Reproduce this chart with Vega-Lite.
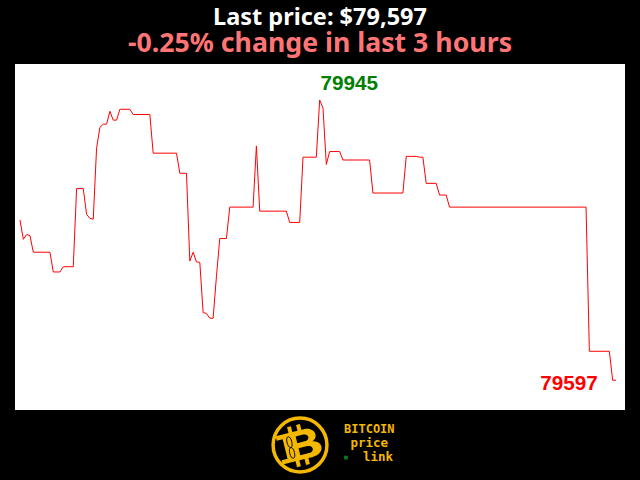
{"$schema":"https://vega.github.io/schema/vega-lite/v6.json","width":610,"height":346,"autosize":{"type":"none"},"padding":{"left":15,"top":64,"right":15,"bottom":70},"background":"#000000","view":{"fill":"#ffffff","stroke":null},"title":{"text":"Last price: $79,597","subtitle":"-0.25% change in last 3 hours","color":"#ffffff","subtitleColor":"#ff7575","font":"Noto Sans","subtitleFont":"Noto Sans","fontSize":23.5,"subtitleFontSize":26.7,"fontWeight":"bold","subtitleFontWeight":"bold","anchor":"middle","offset":6,"subtitlePadding":2},"datasets":{"prices":[{"minute":0,"price":79796},{"minute":1,"price":79772},{"minute":2,"price":79778},{"minute":3,"price":79776.5},{"minute":4,"price":79756},{"minute":9,"price":79756},{"minute":10,"price":79731.5},{"minute":12,"price":79731.5},{"minute":13,"price":79738},{"minute":16,"price":79738},{"minute":17,"price":79835},{"minute":19,"price":79835},{"minute":20,"price":79803},{"minute":21,"price":79798},{"minute":22,"price":79797},{"minute":23,"price":79885},{"minute":24,"price":79911},{"minute":25,"price":79915},{"minute":26,"price":79915},{"minute":27,"price":79931},{"minute":28,"price":79920},{"minute":29,"price":79920},{"minute":30,"price":79933.5},{"minute":33,"price":79933.5},{"minute":34,"price":79927},{"minute":39,"price":79927},{"minute":40,"price":79879},{"minute":47,"price":79879},{"minute":48,"price":79854},{"minute":50,"price":79854},{"minute":51,"price":79745},{"minute":52,"price":79756},{"minute":53,"price":79744},{"minute":54,"price":79743.5},{"minute":55,"price":79681},{"minute":56,"price":79680},{"minute":57,"price":79674},{"minute":58,"price":79674},{"minute":59,"price":79726},{"minute":60,"price":79773},{"minute":62,"price":79773},{"minute":63,"price":79812},{"minute":70,"price":79812},{"minute":71,"price":79888},{"minute":72,"price":79807},{"minute":80,"price":79807},{"minute":81,"price":79793},{"minute":84,"price":79793},{"minute":85,"price":79874},{"minute":89,"price":79874},{"minute":90,"price":79945},{"minute":91,"price":79935},{"minute":92,"price":79865},{"minute":93,"price":79881},{"minute":96,"price":79881},{"minute":97,"price":79870.5},{"minute":105,"price":79870.5},{"minute":106,"price":79829.5},{"minute":115,"price":79829.5},{"minute":116,"price":79875},{"minute":119,"price":79875},{"minute":120,"price":79874},{"minute":121,"price":79874},{"minute":122,"price":79841.5},{"minute":125,"price":79841.5},{"minute":126,"price":79827},{"minute":128,"price":79827},{"minute":129,"price":79812},{"minute":170,"price":79812},{"minute":171,"price":79633},{"minute":177,"price":79633},{"minute":178,"price":79597},{"minute":179,"price":79597}]},"encoding":{"x":{"field":"minute","type":"quantitative","axis":null,"scale":{"domain":[-1.5,181.7],"nice":false,"zero":false}},"y":{"field":"price","type":"quantitative","axis":null,"scale":{"domain":[79560.1,79989.7],"nice":false,"zero":false}}},"layer":[{"data":{"name":"prices"},"mark":{"type":"line","color":"#ff0000","strokeWidth":1,"interpolate":"linear","clip":false}},{"data":{"values":[{"minute":90,"price":79945,"label":"79945"}]},"mark":{"type":"text","font":"Liberation Sans","fontWeight":"bold","fontSize":20.7,"color":"#008000","dx":29.5,"dy":-16,"align":"center","baseline":"middle"},"encoding":{"text":{"field":"label"}}},{"data":{"values":[{"minute":179,"price":79597,"label":"79597"}]},"mark":{"type":"text","font":"Liberation Sans","fontWeight":"bold","fontSize":20.7,"color":"#ff0000","dx":-47,"dy":4,"align":"center","baseline":"middle"},"encoding":{"text":{"field":"label"}}},{"data":{"values":[{"minute":84.1,"price":79516.7}]},"mark":{"type":"point","filled":false,"size":2900,"strokeWidth":3.5,"color":"#f5b800","opacity":1}},{"data":{"values":[{"minute":84.4,"price":79516.7}]},"mark":{"type":"point","filled":true,"opacity":1,"color":"#f5b800","size":2800,"angle":-14,"shape":"M-0.85,-0.55 L-0.35,-0.55 L-0.35,-0.78 L-0.2,-0.78 L-0.2,-0.55 L0,-0.55 L0,-0.78 L0.15,-0.78 L0.15,-0.55 L0.25,-0.55 C0.68,-0.55 0.74,-0.1 0.44,-0.03 C0.88,0.05 0.82,0.55 0.3,0.55 L0.15,0.55 L0.15,0.78 L0,0.78 L0,0.55 L-0.2,0.55 L-0.2,0.78 L-0.35,0.78 L-0.35,0.55 L-0.85,0.55 L-0.85,0.38 L-0.62,0.38 L-0.62,-0.38 L-0.85,-0.38 Z"}},{"data":{"values":[{"minute":84.4,"price":79516.7}]},"mark":{"type":"point","filled":true,"opacity":1,"color":"#000000","size":2800,"angle":-14,"shape":"M-0.12,-0.36 L0.17,-0.36 C0.4,-0.36 0.4,-0.1 0.17,-0.1 L-0.12,-0.1 Z M-0.12,0.1 L0.22,0.1 C0.46,0.1 0.46,0.37 0.22,0.37 L-0.12,0.37 Z"}},{"data":{"values":[{"minute":84.4,"price":79516.7}]},"mark":{"type":"point","filled":false,"opacity":1,"color":"#000000","strokeWidth":0.9,"size":2800,"angle":-14,"shape":"M-0.4,-0.42 C-0.28,-0.42 -0.28,0 -0.4,0 C-0.52,0 -0.52,-0.42 -0.4,-0.42 Z M-0.4,0 C-0.28,0 -0.28,0.42 -0.4,0.42 C-0.52,0.42 -0.52,0 -0.4,0 Z"}},{"data":{"values":[{"minute":104.9,"price":79536.5,"label":"BITCOIN"}]},"mark":{"type":"text","font":"DejaVu Sans Mono","fontWeight":"bold","fontSize":12,"color":"#f5b800","align":"center","baseline":"middle"},"encoding":{"text":{"field":"label"}}},{"data":{"values":[{"minute":104.9,"price":79519,"label":"price"},{"minute":107.5,"price":79502,"label":"link"}]},"mark":{"type":"text","font":"DejaVu Sans Mono","fontWeight":"bold","fontSize":12.5,"color":"#f5b800","align":"center","baseline":"middle"},"encoding":{"text":{"field":"label"}}},{"data":{"values":[{"minute":97.9,"price":79501}]},"mark":{"type":"point","filled":true,"shape":"square","size":14,"color":"#0a7a20","opacity":1}}]}
